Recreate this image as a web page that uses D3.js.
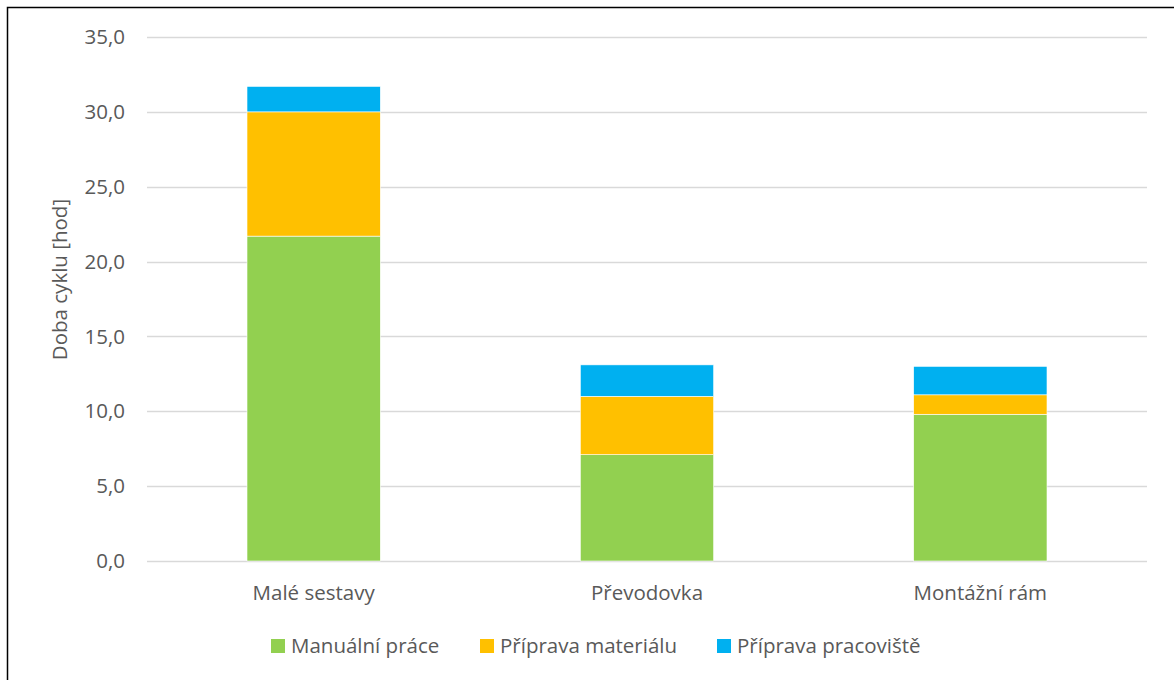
<!DOCTYPE html>
<html><head><meta charset="utf-8">
<script src="https://cdn.jsdelivr.net/npm/d3@7"></script>
<style>html,body{margin:0;padding:0;background:#fff;} svg{display:block;}</style>
</head><body>
<svg id="c" width="1174" height="680"></svg>
<script>
const categories = ["Malé sestavy", "Převodovka", "Montážní rám"];
const seriesNames = ["Manuální práce", "Příprava materiálu", "Příprava pracoviště"];
const manualni = [21.7, 7.1, 9.8];
const materialu = [8.3, 3.9, 1.3];
const pracoviste = [1.7, 2.1, 1.9];
const colors = ["#92d050", "#ffc000", "#00b0f0"];
const yTicks = [0, 5, 10, 15, 20, 25, 30, 35];
const yTitle = "Doba cyklu [hod]";

const svg = d3.select("#c");
const font = "'Open Sans', sans-serif";
const fs = 20.5;
svg.append("rect").attr("x", 7.5).attr("y", 7.5).attr("width", 1180).attr("height", 690)
  .attr("fill", "#fff").attr("stroke", "#000").attr("stroke-width", 1.5);

const x = d3.scaleBand().domain(categories).range([147, 1147]).paddingInner(0.6).paddingOuter(0.3);
const y = d3.scaleLinear().domain([0, 35]).range([561, 37]);

svg.append("g").selectAll("line").data(yTicks).join("line")
  .attr("x1", 147).attr("x2", 1147)
  .attr("y1", d => Math.round(y(d)) + 0.5).attr("y2", d => Math.round(y(d)) + 0.5)
  .attr("stroke", "#d9d9d9").attr("stroke-width", 1.3);

const rows = categories.map((c, i) => ({cat: c, s0: manualni[i], s1: materialu[i], s2: pracoviste[i]}));
const stack = d3.stack().keys(["s0", "s1", "s2"])(rows);
svg.append("g").selectAll("g").data(stack).join("g")
  .attr("fill", (d, i) => colors[i])
  .selectAll("rect").data(d => d).join("rect")
  .attr("x", d => x(d.data.cat)).attr("width", x.bandwidth())
  .attr("y", d => y(d[1])).attr("height", d => y(d[0]) - y(d[1]))
  .attr("stroke", "#fff").attr("stroke-width", 0.6);

const fmt = d => d.toFixed(1).replace(".", ",");
svg.append("g").selectAll("text").data(yTicks).join("text")
  .attr("x", 125).attr("y", d => y(d)).attr("dy", "0.35em")
  .attr("text-anchor", "end").attr("font-family", font).attr("font-size", fs)
  .attr("fill", "#595959").text(fmt);

svg.append("g").selectAll("text").data(categories).join("text")
  .attr("x", d => x(d) + x.bandwidth() / 2).attr("y", 593).attr("dy", "0.35em")
  .attr("text-anchor", "middle").attr("font-family", font).attr("font-size", fs)
  .attr("fill", "#595959").text(d => d);

svg.append("text").attr("transform", `translate(60,${y(18.8)}) rotate(-90)`)
  .attr("text-anchor", "middle").attr("dy", "0.35em").attr("font-family", font).attr("font-size", fs)
  .attr("fill", "#595959").text(yTitle);

const legX = [271, 480, 717];
const leg = svg.append("g").selectAll("g").data(seriesNames).join("g")
  .attr("transform", (d, i) => `translate(${legX[i]},646)`);
leg.append("rect").attr("x", 0).attr("y", -7).attr("width", 14).attr("height", 14)
  .attr("fill", (d, i) => colors[i]);
leg.append("text").attr("x", 20).attr("y", 0).attr("dy", "0.35em")
  .attr("font-family", font).attr("font-size", fs).attr("fill", "#595959").text(d => d);
</script>
</body></html>
